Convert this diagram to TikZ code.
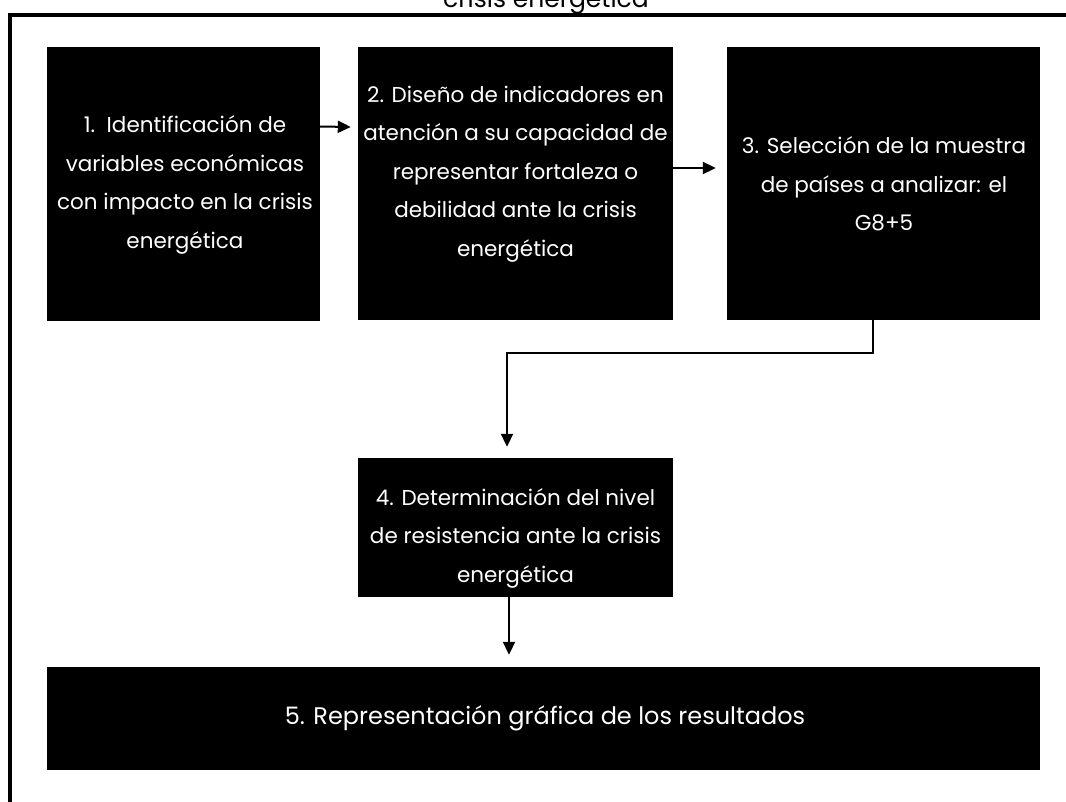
\documentclass[tikz,border=0pt]{standalone}
\usepackage{fontspec}
\setmainfont{Poppins}
\usetikzlibrary{arrows.meta,calc}
\begin{document}
\begin{tikzpicture}[x=1pt,y=-1pt,
  blk/.style={fill=black,draw=none,inner sep=0pt},
  txt/.style={text=white,align=center,inner sep=0pt,font=\fontsize{21.5}{38.5}\selectfont},
  arr/.style={line width=2pt,-{Triangle[length=13pt,width=12pt]}}]
\useasboundingbox (0,0) rectangle (1066,801);
% title (cut off at top)
\node[anchor=base,inner sep=0pt,font=\fontsize{25}{30}\selectfont] (title) at (546,7) {crisis energética};
% frame
\draw[line width=4pt] (10,810) -- (10,14.5) -- (1075,14.5);
% boxes
\node[blk,minimum width=273pt,minimum height=274pt] (b1) at (183.5,184) {};
\node[blk,minimum width=315pt,minimum height=273pt] (b2) at (515.5,183.5) {};
\node[blk,minimum width=313pt,minimum height=273pt] (b3) at (883.5,183.5) {};
\node[blk,minimum width=315pt,minimum height=139pt] (b4) at (515.5,527.5) {};
\node[blk,minimum width=993pt,minimum height=103pt] (b5) at (543.5,718.5) {};
% texts
\node[txt] (t1) at (185,185) {1.\ \ Identificación de\\variables económicas\\con impacto en la crisis\\energética};
\node[txt] (t2) at (515.5,174) {2. Diseño de indicadores en\\atención a su capacidad de\\representar fortaleza o\\debilidad ante la crisis\\energética};
\node[txt] (t3) at (884,184) {3. Selección de la muestra\\de países a analizar: el\\G8+5};
\node[txt] (t4) at (515.5,538) {4. Determinación del nivel\\de resistencia ante la crisis\\energética};
\node[txt,font=\fontsize{24}{30}\selectfont] (t5) at (545,718) {5. Representación gráfica de los resultados};
% connectors
\draw[arr] ([yshift=57.5pt]b1.east) -- ([xshift=-7pt,yshift=56.5pt]b2.west);
\draw[arr] ([yshift=15.5pt]b2.east) -- ([xshift=-11pt,yshift=15.5pt]b3.west);
\draw[arr] ([xshift=-10.5pt]b3.south) -- ++(0,33) -| ([xshift=-8.5pt,yshift=11pt]b4.north);
\draw[arr] ([xshift=-6.5pt]b4.south) -- ($([xshift=-6.5pt]b4.south |- b5.north)+(0,-12)$);
\end{tikzpicture}
\end{document}
